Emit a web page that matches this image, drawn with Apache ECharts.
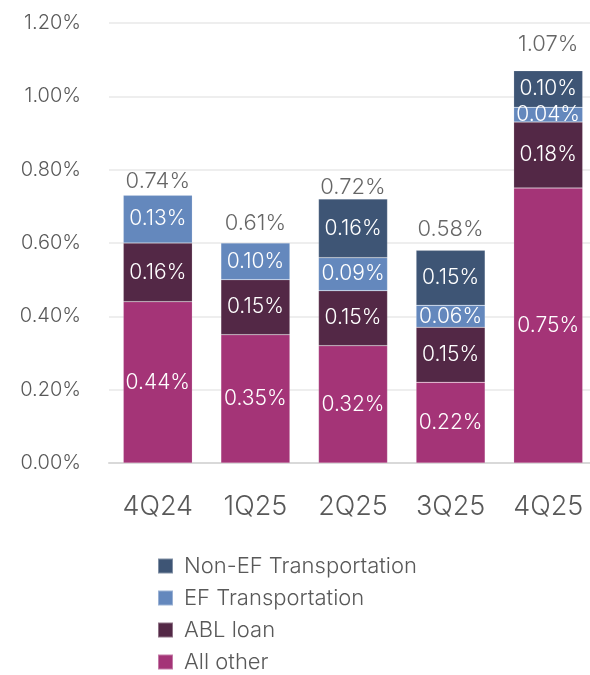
<!DOCTYPE html>
<html>
<head>
<meta charset="utf-8">
<script src="https://cdn.jsdelivr.net/npm/echarts@6/dist/echarts.min.js"></script>
<style>
  html, body { margin: 0; padding: 0; background: #fff; overflow: hidden; }
  /* plot runs slightly past the right edge, as in the reference */
  #chart { width: 597px; height: 675px; }
</style>
</head>
<body>
<div id="chart"></div>
<script>
// data (percent)
const quarters = ['4Q24', '1Q25', '2Q25', '3Q25', '4Q25'];
const allOther = [0.44, 0.35, 0.32, 0.22, 0.75];
const ablLoan = [0.16, 0.15, 0.15, 0.15, 0.18];
const efTransport = [0.13, 0.10, 0.09, 0.06, 0.04];
const nonEfTransport = [null, null, 0.16, 0.15, 0.10];
const totals = [0.74, 0.61, 0.72, 0.58, 1.07];

// vertical nudge (px) of each total label, the source places them by hand
const totalLabelShift = [3, -3, 1, -8, -13];

const fontFamily = 'Inter, "Noto Sans", sans-serif';

const chart = echarts.init(document.getElementById('chart'), null, { renderer: 'canvas' });

// segment label inside the bar
const inLabel = {
  show: true,
  position: 'inside',
  color: '#fff',
  fontFamily: fontFamily,
  fontSize: 21,
  fontWeight: 300,
  formatter: p => p.value.toFixed(2) + '%'
};

const barSeries = function (name, data, color) {
  return {
    name: name,
    type: 'bar',
    stack: 'total',
    barWidth: 69,
    data: data,
    itemStyle: { color: color, borderColor: 'rgba(255,255,255,0.35)', borderWidth: 0.5 },
    label: inLabel
  };
};

const option = {
  animation: false,
  grid: { left: 109, right: 0, top: 23, bottom: 212 },
  legend: {
    orient: 'vertical',
    left: 157,
    top: 555,
    padding: 0,
    itemWidth: 15,
    itemHeight: 15,
    itemGap: 10,
    icon: 'rect',
    data: ['Non-EF Transportation', 'EF Transportation', 'ABL loan', 'All other'],
    textStyle: {
      color: '#595959', fontFamily: fontFamily, fontSize: 22, lineHeight: 22, fontWeight: 300,
      padding: [0, 0, 0, 6]
    }
  },
  xAxis: {
    type: 'category',
    data: quarters,
    axisLine: { lineStyle: { color: '#d9d9d9', width: 2 } },
    axisTick: { show: false },
    axisLabel: { color: '#595959', fontFamily: fontFamily, fontSize: 27, fontWeight: 300, margin: 30 }
  },
  yAxis: {
    type: 'value',
    min: 0,
    max: 1.2,
    interval: 0.2,
    axisLine: { show: false },
    axisTick: { show: false },
    splitLine: { lineStyle: { color: '#eeeeee', width: 2 } },
    axisLabel: {
      color: '#595959', fontFamily: fontFamily, fontSize: 20, fontWeight: 300, margin: 28,
      formatter: v => v.toFixed(2) + '%'
    }
  },
  series: [
    barSeries('All other', allOther, '#a43477'),
    barSeries('ABL loan', ablLoan, '#532846'),
    barSeries('EF Transportation', efTransport, '#6488bd'),
    barSeries('Non-EF Transportation', nonEfTransport, '#3e5575'),
    {
      name: 'Total',
      type: 'scatter',
      data: totals.map((v, i) => ({ value: v, label: { offset: [0, totalLabelShift[i]] } })),
      symbolSize: 0,
      silent: true,
      label: {
        show: true,
        position: 'top',
        distance: 2,
        color: '#404040',
        fontFamily: fontFamily,
        fontSize: 22,
        fontWeight: 300,
        formatter: p => p.value.toFixed(2) + '%'
      }
    }
  ]
};

option && chart.setOption(option);
</script>
</body>
</html>
